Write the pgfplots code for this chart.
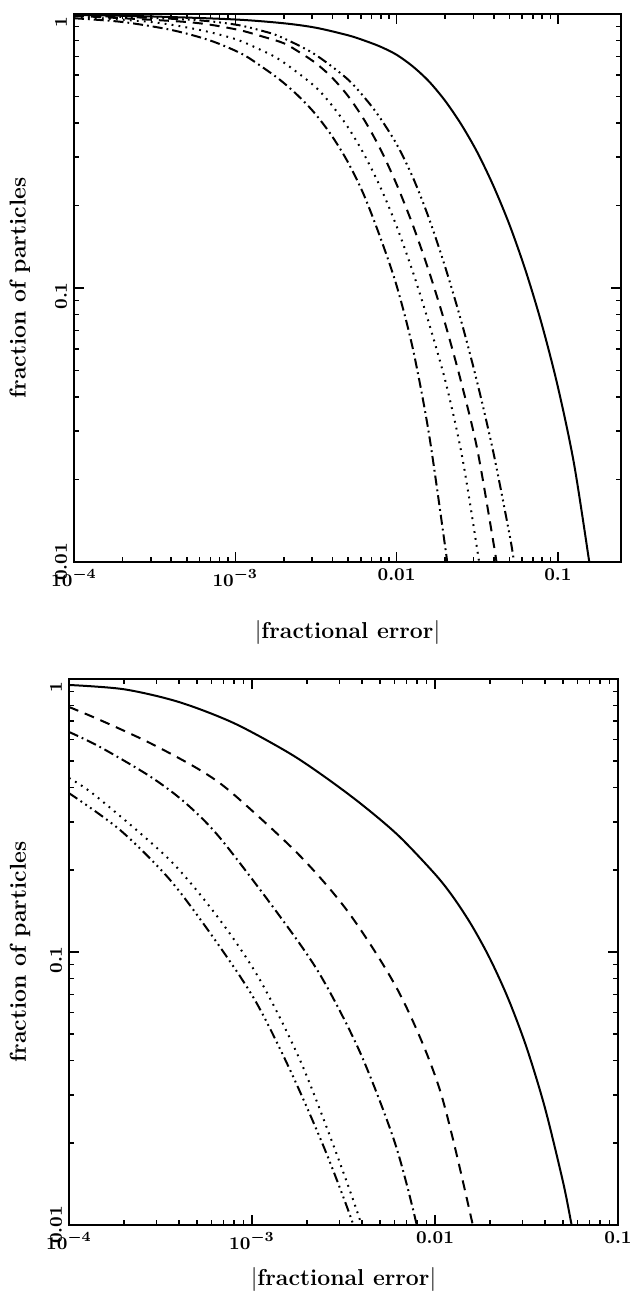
\documentclass[border=0pt]{standalone}
\usepackage{pgfplots}
\pgfplotsset{compat=1.18}
\tikzset{
  cv/.style={line width=1pt, black, smooth, tension=0.5, mark=none},
  sld/.style={cv, solid},
  dsh/.style={cv, dash pattern=on 5pt off 3.5pt},
  dtt/.style={cv, dash pattern=on 0.9pt off 2.6pt},
  dshdt/.style={cv, dash pattern=on 5pt off 2pt on 0.9pt off 2pt},
  dsh3dt/.style={cv, dash pattern=on 5pt off 2pt on 0.9pt off 2pt on 0.9pt off 2pt on 0.9pt off 2pt},
}
\begin{document}
\begin{tikzpicture}
\useasboundingbox (-37pt,-367.5pt) rectangle (277.5pt,281pt);
\begin{axis}[at={(0pt,0pt)}, anchor=south west, width=273.5pt, height=274pt,
    xmode=log, ymode=log, scale only axis,
    xmin=1e-4, xmax=0.246, ymin=0.01, ymax=1,
    axis line style={line width=1pt},
    every tick/.style={line width=0.8pt, black},
    major tick length=5pt, minor tick length=2.5pt,
    tick align=inside,
    ytick={0.01,0.1,1}, yticklabels={\hspace*{8pt}$0.01$,$0.1$,$1$},
    xtick={1e-4,1e-3,1e-2,1e-1}, xticklabels={$10^{-4}$,$10^{-3}$,$0.01$,$0.1$},
    every tick label/.append style={font=\fontsize{9.5}{10}\selectfont\bfseries\boldmath},
    every y tick label/.append style={rotate=90, anchor=south, xshift=-4pt},
    xlabel={$|$fractional error$|$},
    ylabel={fraction of particles},
    every axis x label/.style={at={(axis description cs:0.5,-0.128)}, anchor=center, font=\fontsize{11.5}{13}\selectfont\bfseries},
    every axis y label/.style={at={(axis description cs:-0.099,0.5)}, anchor=center, rotate=90, font=\fontsize{11.5}{13}\selectfont\bfseries}]
% solid
\addplot[sld] coordinates {(1e-4,0.993) (3.16e-4,0.979) (1e-3,0.955) (2.0e-3,0.925) (3.16e-3,0.891) (5.01e-3,0.836) (6.31e-3,0.800) (7.94e-3,0.760) (0.01,0.710) (1.259e-2,0.644) (1.585e-2,0.568) (1.995e-2,0.483) (2.512e-2,0.396) (3.162e-2,0.313) (3.981e-2,0.236) (5.012e-2,0.170) (6.31e-2,0.1156) (7.943e-2,0.0738) (0.1,0.0435) (0.1259,0.0228) (0.1585,0.0095) (0.165,0.008)};
% dash-3dot
\addplot[dsh3dt] coordinates {(1e-4,0.99) (5e-4,0.955) (1e-3,0.915) (1.5e-3,0.865) (1.90e-3,0.826) (3.05e-3,0.718) (4.91e-3,0.582) (6.52e-3,0.485) (7.89e-3,0.418) (1e-2,0.335) (1.259e-2,0.254) (1.585e-2,0.180) (1.995e-2,0.120) (2.512e-2,0.0759) (3.162e-2,0.0452) (3.981e-2,0.0251) (5.012e-2,0.0126) (5.35e-2,0.01) (5.5e-2,0.0092)};
% dashed
\addplot[dsh] coordinates {(1e-4,0.985) (5e-4,0.935) (1e-3,0.88) (1.5e-3,0.825) (2.0e-3,0.782) (2.512e-3,0.724) (3.162e-3,0.661) (3.981e-3,0.586) (5.012e-3,0.501) (6.31e-3,0.410) (7.943e-3,0.321) (0.01,0.239) (1.259e-2,0.170) (1.585e-2,0.1153) (1.995e-2,0.0745) (2.512e-2,0.0454) (3.162e-2,0.0258) (3.981e-2,0.0118) (4.16e-2,0.01) (4.3e-2,0.0088)};
% dotted
\addplot[dtt] coordinates {(1e-4,0.98) (3e-4,0.935) (6e-4,0.875) (1e-3,0.81) (1.4e-3,0.745) (1.9e-3,0.679) (3.05e-3,0.550) (3.87e-3,0.473) (4.91e-3,0.392) (6.22e-3,0.311) (7.89e-3,0.235) (1e-2,0.168) (1.27e-2,0.113) (1.61e-2,0.0723) (2.04e-2,0.044) (2.57e-2,0.0236) (3.24e-2,0.0101) (3.35e-2,0.0088)};
% dash-dot
\addplot[dshdt] coordinates {(1e-4,0.965) (2e-4,0.935) (4e-4,0.875) (7e-4,0.80) (1.1e-3,0.715) (1.5e-3,0.635) (1.90e-3,0.574) (2.41e-3,0.508) (3.05e-3,0.440) (3.87e-3,0.367) (4.91e-3,0.293) (6.22e-3,0.221) (7.89e-3,0.154) (1.0e-2,0.102) (1.259e-2,0.0603) (1.585e-2,0.0295) (1.995e-2,0.0115) (2.06e-2,0.0099) (2.1e-2,0.0088)};
\end{axis}
\begin{axis}[at={(-2.5pt,-331.5pt)}, anchor=south west, width=274.5pt, height=273pt,
    xmode=log, ymode=log, scale only axis,
    xmin=1e-4, xmax=0.1, ymin=0.01, ymax=1,
    axis line style={line width=1pt},
    every tick/.style={line width=0.8pt, black},
    major tick length=5pt, minor tick length=2.5pt,
    tick align=inside,
    ytick={0.01,0.1,1}, yticklabels={\hspace*{8pt}$0.01$,$0.1$,$1$},
    xtick={1e-4,1e-3,1e-2,1e-1}, xticklabels={$10^{-4}$,$10^{-3}$,$0.01$,$0.1$},
    every tick label/.append style={font=\fontsize{9.5}{10}\selectfont\bfseries\boldmath},
    every y tick label/.append style={rotate=90, anchor=south, xshift=-4pt},
    xlabel={$|$fractional error$|$},
    ylabel={fraction of particles},
    every axis x label/.style={at={(axis description cs:0.5,-0.1007)}, anchor=center, font=\fontsize{11.5}{13}\selectfont\bfseries},
    every axis y label/.style={at={(axis description cs:-0.089,0.5)}, anchor=center, rotate=90, font=\fontsize{11.5}{13}\selectfont\bfseries}]
% solid
\addplot[sld] coordinates {(1e-4,0.951) (2.0e-4,0.917) (3.98e-4,0.824) (7.94e-4,0.690) (1.585e-3,0.537) (2.512e-3,0.437) (3.981e-3,0.347) (6.31e-3,0.267) (0.01,0.193) (1.259e-2,0.1587) (1.585e-2,0.1254) (1.995e-2,0.0947) (2.512e-2,0.0675) (3.162e-2,0.0448) (3.981e-2,0.0270) (5.012e-2,0.01434) (5.58e-2,0.01) (5.75e-2,0.0091)};
% dashed
\addplot[dsh] coordinates {(1e-4,0.790) (1.476e-4,0.708) (2.77e-4,0.583) (5.20e-4,0.464) (7.87e-4,0.380) (1.83e-3,0.225) (3.44e-3,0.137) (6.44e-3,0.0700) (1.064e-2,0.0312) (1.615e-2,0.0099) (1.7e-2,0.008)};
% dash-dot
\addplot[dshdt] coordinates {(1e-4,0.640) (1.476e-4,0.564) (2.77e-4,0.440) (4.3e-4,0.353) (6.68e-4,0.262) (1.422e-3,0.135) (2.36e-3,0.0824) (3.89e-3,0.0430) (6.04e-3,0.0200) (7.98e-3,0.0099) (8.3e-3,0.008)};
% dotted
\addplot[dtt] coordinates {(1e-4,0.434) (1.422e-4,0.370) (3.56e-4,0.217) (6.68e-4,0.131) (1.107e-3,0.0789) (1.83e-3,0.0402) (2.85e-3,0.0188) (3.99e-3,0.0099) (4.2e-3,0.008)};
% dash-3dot
\addplot[dsh3dt] coordinates {(1e-4,0.382) (1.90e-4,0.280) (3.56e-4,0.184) (6.28e-4,0.1107) (1.037e-3,0.0667) (1.614e-3,0.0370) (2.51e-3,0.0188) (3.60e-3,0.0099) (3.8e-3,0.008)};
\end{axis}
\end{tikzpicture}
\end{document}
